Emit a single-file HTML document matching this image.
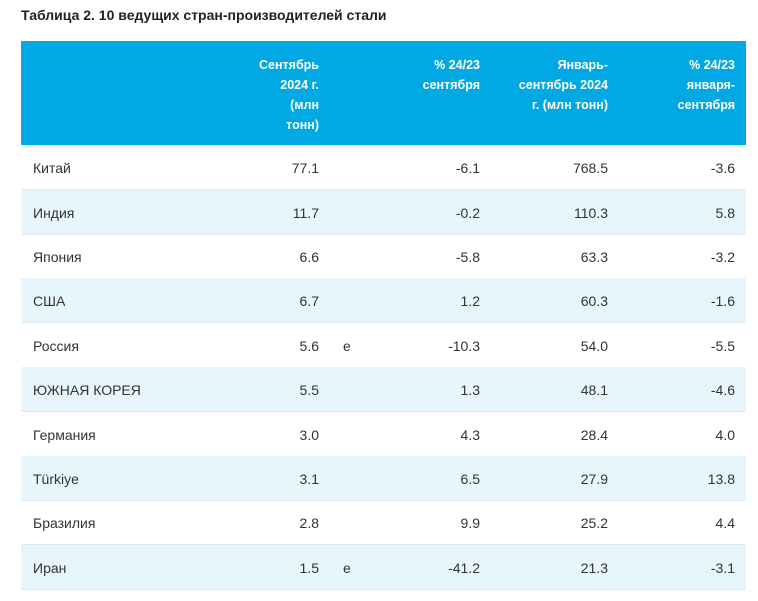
<!DOCTYPE html>
<html><head><meta charset="utf-8"><style>
body{margin:0;background:#fff;width:758px;height:601px;overflow:hidden;font-family:"Liberation Sans","DejaVu Sans",sans-serif;color:#333}
.t{position:absolute;left:21px;top:7px;font-weight:bold;font-size:14px;color:#222}
.h{position:absolute;left:21px;top:41px;width:725px;height:104px;background:#00a9e3}
.hc{position:absolute;top:14px;color:#fff;font-weight:bold;font-size:12.5px;line-height:20px;text-align:right}
.r{position:absolute;left:21px;width:725px;height:44px;border-bottom:1px solid #dde9f0;font-size:14px}
.r.b{background:#e7f5fc}
.r span{position:absolute;top:15px}
.n{left:12px}
.c1{right:427px}.e{left:322px}.c2{right:266px}.c3{right:138px}.c4{right:11px}
</style></head><body>
<div class="t">Таблица 2. 10 ведущих стран-производителей стали</div>
<div class="h">
<div class="hc" style="right:427px">Сентябрь<br>2024 г.<br>(млн<br>тонн)</div>
<div class="hc" style="right:266px">% 24/23<br>сентября</div>
<div class="hc" style="right:138px">Январь-<br>сентябрь 2024<br>г. (млн тонн)</div>
<div class="hc" style="right:11px">% 24/23<br>января-<br>сентября</div>
</div>
<div class="r" style="top:145px"><span class="n">Китай</span><span class="c1">77.1</span><span class="c2">-6.1</span><span class="c3">768.5</span><span class="c4">-3.6</span></div>
<div class="r b" style="top:190px"><span class="n">Индия</span><span class="c1">11.7</span><span class="c2">-0.2</span><span class="c3">110.3</span><span class="c4">5.8</span></div>
<div class="r" style="top:234px"><span class="n">Япония</span><span class="c1">6.6</span><span class="c2">-5.8</span><span class="c3">63.3</span><span class="c4">-3.2</span></div>
<div class="r b" style="top:278px"><span class="n">США</span><span class="c1">6.7</span><span class="c2">1.2</span><span class="c3">60.3</span><span class="c4">-1.6</span></div>
<div class="r" style="top:323px"><span class="n">Россия</span><span class="c1">5.6</span><span class="e">e</span><span class="c2">-10.3</span><span class="c3">54.0</span><span class="c4">-5.5</span></div>
<div class="r b" style="top:367px"><span class="n">ЮЖНАЯ КОРЕЯ</span><span class="c1">5.5</span><span class="c2">1.3</span><span class="c3">48.1</span><span class="c4">-4.6</span></div>
<div class="r" style="top:412px"><span class="n">Германия</span><span class="c1">3.0</span><span class="c2">4.3</span><span class="c3">28.4</span><span class="c4">4.0</span></div>
<div class="r b" style="top:456px"><span class="n">Türkiye</span><span class="c1">3.1</span><span class="c2">6.5</span><span class="c3">27.9</span><span class="c4">13.8</span></div>
<div class="r" style="top:500px"><span class="n">Бразилия</span><span class="c1">2.8</span><span class="c2">9.9</span><span class="c3">25.2</span><span class="c4">4.4</span></div>
<div class="r b" style="top:545px"><span class="n">Иран</span><span class="c1">1.5</span><span class="e">e</span><span class="c2">-41.2</span><span class="c3">21.3</span><span class="c4">-3.1</span></div>
</body></html>
